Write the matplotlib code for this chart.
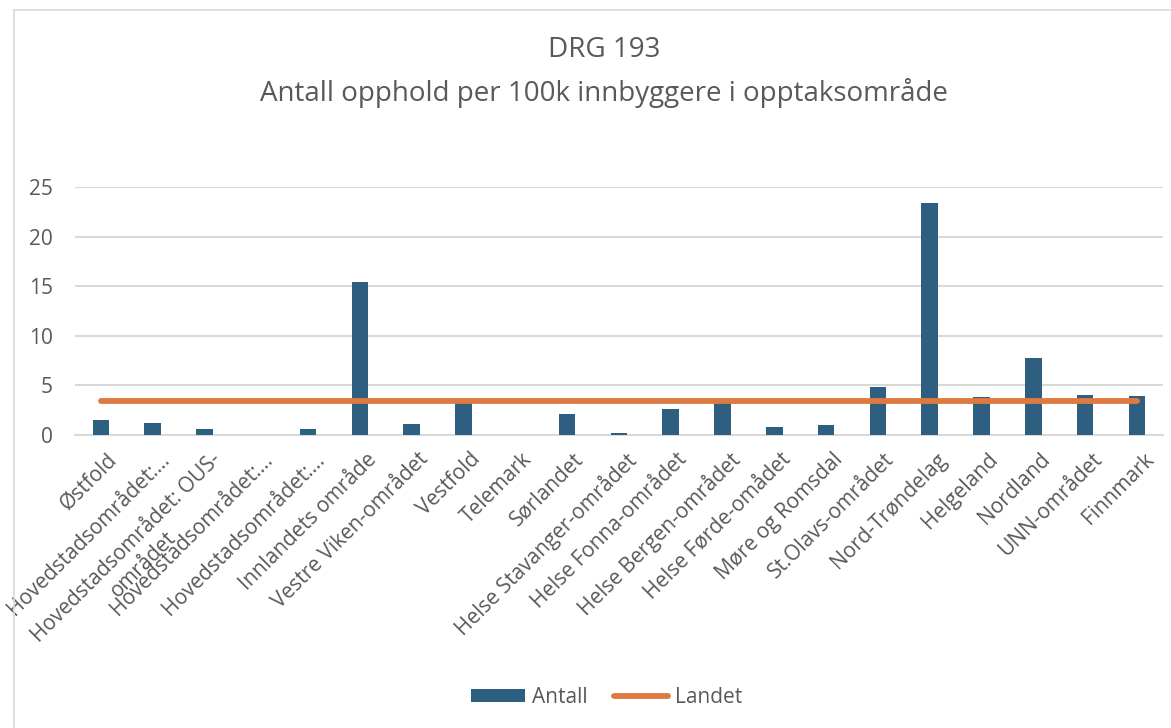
import matplotlib.pyplot as plt
import matplotlib.transforms as mtransforms
import numpy as np
from matplotlib.lines import Line2D

plt.rcParams['font.family'] = ['Open Sans', 'DejaVu Sans']

txt_color = "#595959"
bar_color = "#2E5F80"
line_color = "#DD7A42"
grid_color = "#D9D9D9"

categories = [
    "Østfold", "Hovedstadsområdet:…", "Hovedstadsområdet: OUS-\nområdet",
    "Hovedstadsområdet:…", "Hovedstadsområdet:…", "Innlandets område",
    "Vestre Viken-området", "Vestfold", "Telemark", "Sørlandet",
    "Helse Stavanger-området", "Helse Fonna-området", "Helse Bergen-området",
    "Helse Førde-omådet", "Møre og Romsdal", "St.Olavs-området",
    "Nord-Trøndelag", "Helgeland", "Nordland", "UNN-området", "Finnmark",
]
antall = [1.5, 1.2, 0.65, 0, 0.6, 15.5, 1.1, 3.3, 0, 2.1, 0.2, 2.6, 3.3,
          0.85, 1.0, 4.85, 23.45, 3.8, 7.8, 4.0, 3.95]
landet = [3.4] * len(categories)
yticks = [0, 5, 10, 15, 20, 25]

fig = plt.figure(figsize=(11.71, 7.28), dpi=100)
ax = fig.add_axes([0.064, 0.4025, 0.929, 0.34])

x = np.arange(len(categories))
bars = ax.bar(x, antall, width=0.32, color=bar_color, zorder=3, label="Antall")
line, = ax.plot(x, landet, color=line_color, linewidth=4.2, solid_capstyle='round',
                zorder=4, label="Landet")

ax.set_xlim(-0.5, len(categories) - 0.5)
ax.set_ylim(0, 25)
ax.set_yticks(yticks)
ax.yaxis.grid(True, color=grid_color, linewidth=1.5, zorder=0)
for s in ["top", "right", "left"]:
    ax.spines[s].set_visible(False)
ax.spines["bottom"].set_color(grid_color)
ax.spines["bottom"].set_linewidth(1.5)
ax.tick_params(axis='y', length=0, pad=16, labelsize=15, labelcolor=txt_color)
ax.tick_params(axis='x', length=0, pad=10, labelsize=15, labelcolor=txt_color)
ax.set_xticks(x)
ax.set_xticklabels(categories, rotation=45, ha='right', rotation_mode='anchor',
                   multialignment='center')
shift = mtransforms.ScaledTranslation(6 / 100, 0, fig.dpi_scale_trans)
for lab in ax.get_xticklabels():
    lab.set_transform(lab.get_transform() + shift)

fig.text(0.516, 0.931, "DRG 193", ha='center', va='center', fontsize=20, color=txt_color)
fig.text(0.516, 0.872, "Antall opphold per 100k innbyggere i opptaksområde",
         ha='center', va='center', fontsize=20, color=txt_color)

fig.legend([bars, line], ["Antall", "Landet"], loc='center',
           bbox_to_anchor=(0.518, 0.042), ncol=2, frameon=False,
           fontsize=15, labelcolor=txt_color, handlelength=2.6, columnspacing=1.3,
           handleheight=0.6, handletextpad=0.3)

# chart border (left and top edges visible in the crop)
fig.add_artist(Line2D([14 / 1171, 14 / 1171], [0, 1 - 10 / 728],
                      transform=fig.transFigure, color=grid_color, linewidth=1.2))
fig.add_artist(Line2D([14 / 1171, 1], [1 - 10 / 728, 1 - 10 / 728],
                      transform=fig.transFigure, color=grid_color, linewidth=1.2))

fig.savefig("out.png", dpi=100)
